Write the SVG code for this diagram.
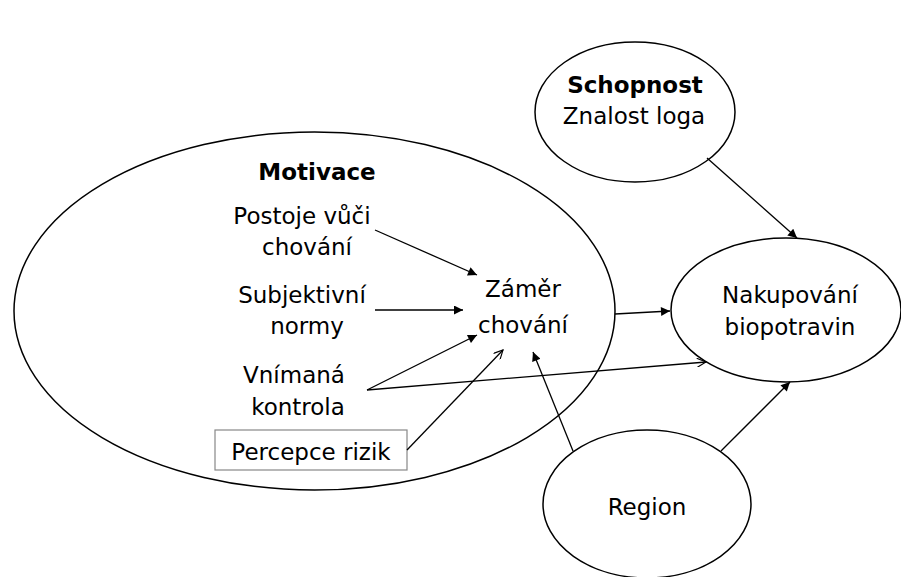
<svg xmlns="http://www.w3.org/2000/svg" width="901" height="577" viewBox="0 0 901 577">
<style>
.n{fill:#fff;stroke:#000;stroke-width:1.5}
.big{fill:none;stroke:#000;stroke-width:1.5}
text{font-family:"DejaVu Sans","Liberation Sans",sans-serif;font-size:23px;fill:#000;text-anchor:middle}
.b{font-weight:bold}
.c line{stroke:#000;stroke-width:1.3}
.f{marker-end:url(#fa)}
.o{marker-end:url(#oa)}
</style>
<defs>
<marker id="fa" viewBox="0 0 10 10" refX="10" refY="5" markerWidth="11" markerHeight="9" markerUnits="userSpaceOnUse" orient="auto">
<path d="M0,0 L10,5 L0,10 z" fill="#000"/>
</marker>
<marker id="oa" viewBox="0 0 10 10" refX="10" refY="5" markerWidth="11" markerHeight="9" markerUnits="userSpaceOnUse" orient="auto">
<path d="M0,0 L10,5 L0,10" fill="none" stroke="#000" stroke-width="1.3"/>
</marker>
</defs>
<rect width="901" height="577" fill="#fff"/>
<g id="motivace">
<ellipse class="big" cx="314.5" cy="311" rx="300.5" ry="179"/>
<text class="b" x="317" y="180">Motivace</text>
</g>
<g id="postoje">
<text x="302" y="224">Postoje vůči</text>
<text x="307" y="255">chování</text>
</g>
<g id="subjektivni">
<text x="302" y="303">Subjektivní</text>
<text x="307" y="334">normy</text>
</g>
<g id="vnimana">
<text x="294" y="383">Vnímaná</text>
<text x="298" y="415">kontrola</text>
</g>
<g id="percepce">
<rect x="215" y="430" width="192" height="40" fill="#fff" stroke="#888" stroke-width="1.2"/>
<text x="311" y="460">Percepce rizik</text>
</g>
<g id="zamer">
<text x="523" y="297">Záměr</text>
<text x="523" y="333">chování</text>
</g>
<g id="schopnost">
<ellipse class="n" cx="635" cy="112" rx="100" ry="70"/>
<text class="b" x="635" y="93">Schopnost</text>
<text x="634" y="124">Znalost loga</text>
</g>
<g id="nakupovani">
<ellipse class="n" cx="786" cy="310" rx="115" ry="72"/>
<text x="790" y="303">Nakupování</text>
<text x="790" y="335">biopotravin</text>
</g>
<g id="region">
<ellipse class="n" cx="647" cy="504" rx="104" ry="74"/>
<text x="647" y="515">Region</text>
</g>
<g class="c" id="connectors">
<line class="f" x1="375" y1="230" x2="477" y2="275"/>
<line class="f" x1="375" y1="310" x2="463" y2="310"/>
<line class="f" x1="367" y1="390" x2="477" y2="335"/>
<line class="o" x1="367" y1="390" x2="706" y2="362"/>
<line class="o" x1="407" y1="450" x2="503" y2="350"/>
<line class="f" x1="573" y1="451" x2="533" y2="352"/>
<line class="f" x1="615" y1="314" x2="670" y2="311"/>
<line class="f" x1="707" y1="158" x2="797" y2="238"/>
<line class="f" x1="721" y1="451" x2="790" y2="382"/>
</g>
</svg>
